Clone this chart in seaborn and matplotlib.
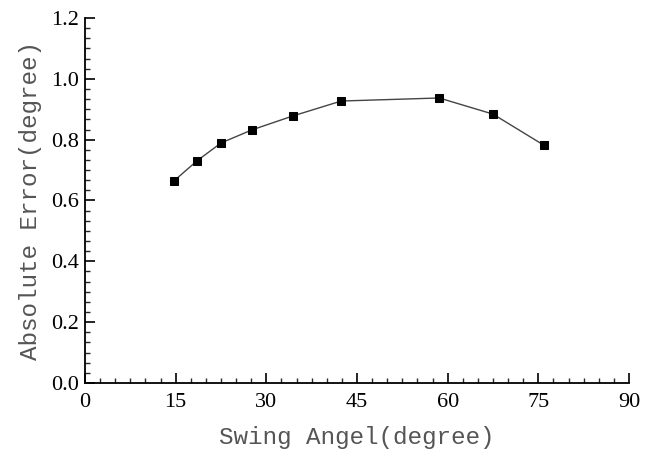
import numpy as np
import pandas as pd
import matplotlib
matplotlib.use("Agg")
import matplotlib.pyplot as plt
from matplotlib.ticker import MultipleLocator
import seaborn as sns

# ── Data ─────────────────────────────────────────────────────────────────────
swing_angle = [14.7, 18.5, 22.5, 27.6, 34.4, 42.4, 58.6, 67.5, 75.9]
abs_error = [0.664, 0.730, 0.789, 0.832, 0.878, 0.927, 0.937, 0.884, 0.782]

df = pd.DataFrame({"angle": swing_angle, "error": abs_error})

sns.set_style("ticks")
plt.rcParams["font.family"] = ["Liberation Serif", "DejaVu Serif"]

fig = plt.figure(figsize=(6.56, 4.5), dpi=100)
ax = fig.add_axes([0.1296, 0.149, 0.8292, 0.811])

sns.lineplot(data=df, x="angle", y="error", ax=ax, color="#444444", linewidth=1.0,
             marker="s", markersize=5.5, markerfacecolor="black",
             markeredgecolor="black")

ax.set_xlim(0, 90)
ax.set_ylim(0, 1.2)
ax.xaxis.set_major_locator(MultipleLocator(15))
ax.xaxis.set_minor_locator(MultipleLocator(2.5))
ax.yaxis.set_major_locator(MultipleLocator(0.2))
ax.yaxis.set_minor_locator(MultipleLocator(0.2 / 6))
ax.yaxis.set_major_formatter(matplotlib.ticker.FormatStrFormatter("%.1f"))

ax.tick_params(which="major", direction="in", length=7, width=1.2,
               labelsize=16, color="black", labelcolor="black")
ax.tick_params(axis="x", which="major", pad=7)
ax.tick_params(axis="y", which="major", pad=4)
ax.tick_params(which="minor", direction="in", length=3.5, width=1.0)

for side in ["top", "right"]:
    ax.spines[side].set_visible(False)
for side in ["left", "bottom"]:
    ax.spines[side].set_linewidth(1.3)
    ax.spines[side].set_color("black")

label_font = dict(family=["Liberation Mono", "DejaVu Sans Mono"], size=17.5,
                  color="#555555")
ax.set_xlabel("Swing Angel(degree)", labelpad=10, **label_font)
ax.set_ylabel("Absolute Error(degree)", labelpad=7, **label_font)

fig.savefig("out.png", dpi=100)
